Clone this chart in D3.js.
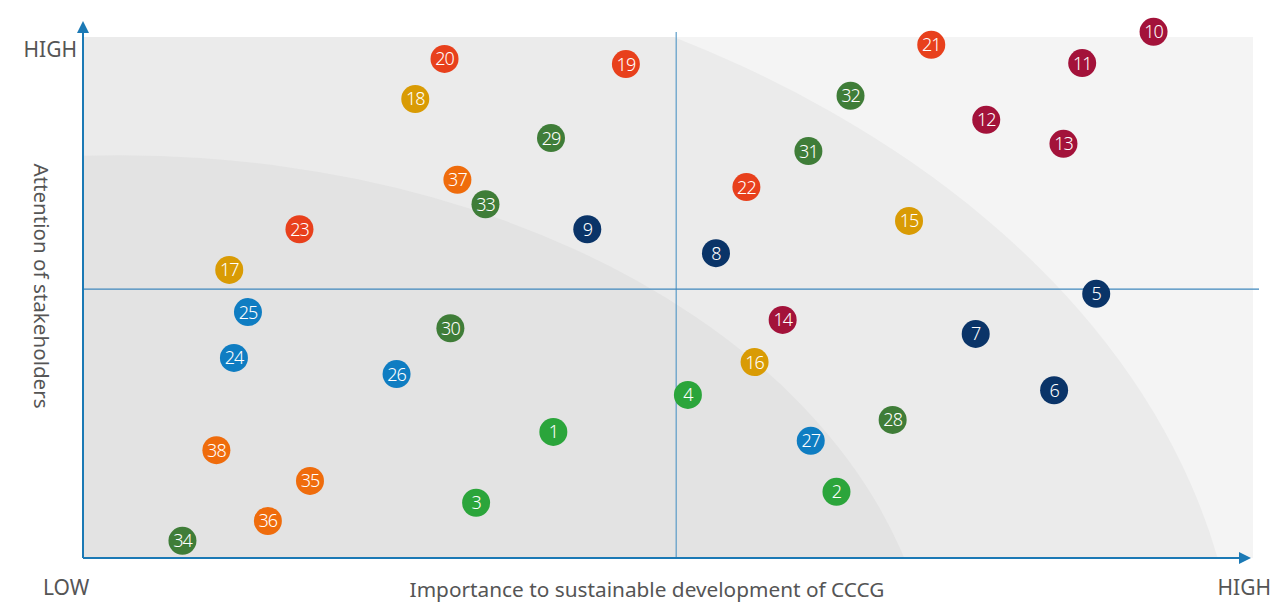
<!DOCTYPE html>
<html>
<head>
<meta charset="utf-8">
<script src="https://cdn.jsdelivr.net/npm/d3@7"></script>
<style>
  body { margin: 0; background: #fff; }
  svg { display: block; font-family: "Noto Sans", "Open Sans", sans-serif; }
</style>
</head>
<body>
<svg id="chart"></svg>
<script>
const width = 1277;
const height = 602;

// issues (id) + importance (x) + attention (y), 0-100 scale
const ids = [1, 2, 3, 4, 5, 6, 7, 8, 9, 10, 11, 12, 13, 14, 15, 16, 17, 18, 19,
  20, 21, 22, 23, 24, 25, 26, 27, 28, 29, 30, 31, 32, 33, 34, 35, 36, 37, 38];
const importance = [40.2, 64.4, 33.6, 51.7, 86.6, 83.0, 76.3, 54.1, 43.1, 91.5,
  85.4, 77.2, 83.8, 59.8, 70.6, 57.4, 12.5, 28.4, 46.4, 30.9, 72.5, 56.7, 18.5,
  12.9, 14.1, 26.8, 62.2, 69.2, 40.0, 31.4, 62.0, 65.6, 34.4, 8.5, 19.4, 15.8,
  32.0, 11.4];
const attention = [24.2, 12.7, 10.6, 31.3, 50.7, 32.2, 43.0, 58.5, 63.1, 101.0,
  95.0, 84.1, 79.5, 45.7, 64.7, 37.6, 55.3, 88.1, 94.8, 95.8, 98.5, 71.2, 63.1,
  38.4, 47.2, 35.3, 22.5, 26.5, 80.6, 44.1, 78.1, 88.7, 67.9, 3.3, 14.8, 7.1,
  72.6, 20.7];
// colour group for each issue
const groups = ["g", "g", "g", "g", "n", "n", "n", "n", "n", "c", "c", "c", "c",
  "c", "y", "y", "y", "y", "r", "r", "r", "r", "r", "b", "b", "b", "b", "d", "d",
  "d", "d", "d", "d", "d", "o", "o", "o", "o"];
const groupColors = {
  g: "#2ba53b", n: "#0a3468", c: "#a3123a", y: "#d99b04",
  r: "#e8401c", b: "#0f7dc2", d: "#3f7d38", o: "#ef6c0c"
};

// quadrant split
const midX = 50.7;
const midY = 51.6;

// shaded zones (ellipses, centre + radii in data units)
const zoneCx = 3.2;
const zoneCy = -28.8;
const zoneRx = [95.6, 69.6];
const zoneRy = [148.2, 106.1];
const zoneFill = ["#ebebeb", "#e3e3e3"];

const axisLabels = { low: "LOW", high: "HIGH" };
const xTitle = "Importance to sustainable development of CCCG";
const yTitle = "Attention of stakeholders";

const margin = { top: 37, right: 24, bottom: 44, left: 83 };
const innerWidth = width - margin.left - margin.right;
const innerHeight = height - margin.top - margin.bottom;

const svg = d3.select("#chart")
  .attr("width", width)
  .attr("height", height);

const x = d3.scaleLinear().domain([0, 100]).range([0, innerWidth]);
const y = d3.scaleLinear().domain([0, 100]).range([innerHeight, 0]);

const graph = svg.append("g")
  .attr("transform", `translate(${margin.left}, ${margin.top})`);

// background + zones
const defs = svg.append("defs");
defs.append("clipPath").attr("id", "plot")
  .append("rect").attr("width", x(100)).attr("height", innerHeight);

graph.append("rect")
  .attr("width", x(100))
  .attr("height", innerHeight)
  .attr("fill", "#f4f4f4");

graph.append("g")
  .attr("clip-path", "url(#plot)")
  .selectAll("ellipse")
  .data(zoneRx)
  .join("ellipse")
  .attr("cx", x(zoneCx))
  .attr("cy", y(zoneCy))
  .attr("rx", d => x(d) - x(0))
  .attr("ry", (d, i) => y(0) - y(zoneRy[i]))
  .attr("fill", (d, i) => zoneFill[i]);

// quadrant lines
graph.append("line")
  .attr("x1", x(midX)).attr("x2", x(midX))
  .attr("y1", -5).attr("y2", innerHeight)
  .attr("stroke", "#5b9bc8").attr("stroke-width", 1.2);

graph.append("line")
  .attr("x1", 0).attr("x2", innerWidth + 6)
  .attr("y1", y(midY)).attr("y2", y(midY))
  .attr("stroke", "#3f87bd").attr("stroke-width", 1.2);

// axes with arrows
const axisColor = "#1b79b5";
defs.append("marker")
  .attr("id", "arrow")
  .attr("viewBox", "0 0 10 10")
  .attr("refX", 0).attr("refY", 5)
  .attr("markerWidth", 16).attr("markerHeight", 12)
  .attr("markerUnits", "userSpaceOnUse")
  .attr("orient", "auto")
  .append("path")
  .attr("d", "M0,0 L10,5 L0,10 Z")
  .attr("fill", axisColor);

graph.append("line")
  .attr("x1", 0).attr("y1", innerHeight)
  .attr("x2", 0).attr("y2", -4)
  .attr("stroke", axisColor).attr("stroke-width", 2)
  .attr("marker-end", "url(#arrow)");

graph.append("line")
  .attr("x1", 0).attr("y1", innerHeight)
  .attr("x2", innerWidth - 14).attr("y2", innerHeight)
  .attr("stroke", axisColor).attr("stroke-width", 2)
  .attr("marker-end", "url(#arrow)");

// axis labels
const labelColor = "#555";
svg.append("text")
  .attr("x", 77).attr("y", 57)
  .attr("text-anchor", "end")
  .attr("font-size", 21).attr("fill", labelColor)
  .text(axisLabels.high);

svg.append("text")
  .attr("x", 43).attr("y", 595)
  .attr("font-size", 21).attr("fill", labelColor)
  .text(axisLabels.low);

svg.append("text")
  .attr("x", 1271).attr("y", 595)
  .attr("text-anchor", "end")
  .attr("font-size", 21).attr("fill", labelColor)
  .text(axisLabels.high);

svg.append("text")
  .attr("x", 647).attr("y", 597)
  .attr("text-anchor", "middle")
  .attr("font-size", 20.8).attr("fill", labelColor)
  .text(xTitle);

svg.append("text")
  .attr("transform", "translate(34, 286) rotate(90)")
  .attr("text-anchor", "middle")
  .attr("font-size", 20.6).attr("fill", labelColor)
  .text(yTitle);

// points
const points = ids.map((id, i) => ({
  id, x: importance[i], y: attention[i], g: groups[i]
}));

const dots = graph.selectAll(".dot")
  .data(points)
  .join("g")
  .attr("class", "dot")
  .attr("transform", d => `translate(${x(d.x)}, ${y(d.y)})`);

dots.append("circle")
  .attr("r", 14)
  .attr("fill", d => groupColors[d.g]);

dots.append("text")
  .attr("text-anchor", "middle")
  .attr("dy", "0.36em")
  .attr("font-size", 18)
  .attr("font-weight", 300)
  .attr("letter-spacing", -1)
  .attr("fill", "#fff")
  .text(d => d.id);
</script>
</body>
</html>
